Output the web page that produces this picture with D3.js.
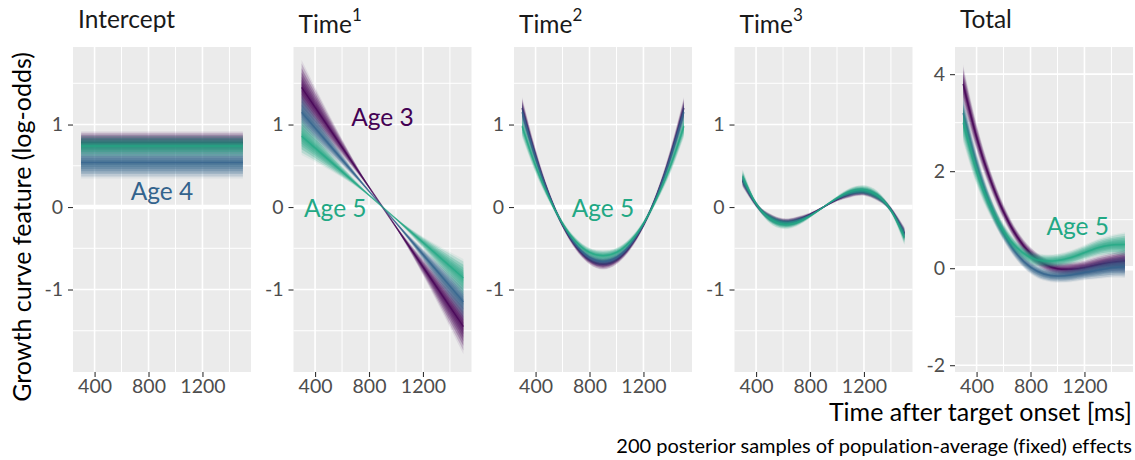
<!DOCTYPE html>
<html>
<head>
<meta charset="utf-8">
<script src="https://cdn.jsdelivr.net/npm/d3@7"></script>
<style>
  body { margin: 0; background: #fff; }
  svg { font-family: Lato, "Open Sans", sans-serif; font-variant-ligatures: none; }
</style>
</head>
<body>
<div id="chart"></div>
<script>
// groups and colours
const ages = ['Age 3', 'Age 4', 'Age 5'];
const ageColors = ['#440154', '#33638d', '#22a884'];

// panels
const panelTitles = ['Intercept', 'Time', 'Time', 'Time', 'Total'];
const panelSup = ['', '1', '2', '3', ''];
const xTicks = [400, 800, 1200];
const xMinor = [600, 1000, 1400];
const yTicks = [-1, 0, 1];
const yMinor = [-1.5, -0.5, 0.5, 1.5];
const totalTicks = [-2, 0, 2, 4];
const totalMinor = [-1, 1, 3];

// curves: centre of each bundle and half its spread
const interceptX = [300, 1500];
const interceptMid = [[0.78, 0.78], [0.54, 0.54], [0.74, 0.74]];
const interceptSpread = [[0.12, 0.12], [0.17, 0.17], [0.12, 0.12]];

const time1X = [300, 900, 1500];
const time1Mid = [[1.45, 0, -1.45], [1.15, 0, -1.15], [0.86, 0, -0.86]];
const time1Spread = [[0.29, 0, 0.29], [0.2, 0, 0.2], [0.2, 0, 0.2]];

const gridX = [300, 400, 500, 600, 700, 800, 900, 1000, 1100, 1200, 1300, 1400, 1500];
const time2Mid = [
  [1.20, 0.62, 0.15, -0.22, -0.48, -0.64, -0.69, -0.64, -0.48, -0.22, 0.15, 0.62, 1.20],
  [1.15, 0.60, 0.14, -0.21, -0.46, -0.61, -0.66, -0.61, -0.46, -0.21, 0.14, 0.60, 1.15],
  [0.98, 0.50, 0.11, -0.20, -0.42, -0.55, -0.59, -0.55, -0.42, -0.20, 0.11, 0.50, 0.98]
];
const time2Spread = [
  [0.12, 0.08, 0.04, 0.03, 0.04, 0.05, 0.06, 0.05, 0.04, 0.03, 0.04, 0.08, 0.12],
  [0.11, 0.07, 0.04, 0.03, 0.04, 0.05, 0.05, 0.05, 0.04, 0.03, 0.04, 0.07, 0.11],
  [0.12, 0.08, 0.04, 0.03, 0.04, 0.05, 0.06, 0.05, 0.04, 0.03, 0.04, 0.08, 0.12]
];
const time3Mid = [
  [0.32, 0.03, -0.12, -0.18, -0.16, -0.09, 0, 0.09, 0.16, 0.18, 0.12, -0.03, -0.32],
  [0.33, 0.035, -0.13, -0.19, -0.17, -0.10, 0, 0.10, 0.17, 0.19, 0.13, -0.035, -0.33],
  [0.37, 0.04, -0.14, -0.21, -0.19, -0.11, 0, 0.11, 0.19, 0.21, 0.14, -0.04, -0.37]
];
const time3Spread = [
  [0.07, 0.03, 0.04, 0.04, 0.04, 0.02, 0.01, 0.02, 0.04, 0.04, 0.04, 0.03, 0.07],
  [0.07, 0.03, 0.04, 0.04, 0.04, 0.02, 0.01, 0.02, 0.04, 0.04, 0.04, 0.03, 0.07],
  [0.08, 0.03, 0.05, 0.05, 0.04, 0.02, 0.01, 0.02, 0.04, 0.05, 0.05, 0.03, 0.08]
];
const totalMid = [
  [3.80, 2.70, 1.84, 1.16, 0.65, 0.30, 0.09, -0.01, -0.02, 0.01, 0.07, 0.12, 0.15],
  [3.20, 2.14, 1.32, 0.72, 0.29, 0.02, -0.12, -0.16, -0.14, -0.09, -0.04, 0.01, 0.03],
  [3.00, 2.00, 1.28, 0.76, 0.42, 0.22, 0.15, 0.16, 0.22, 0.32, 0.42, 0.48, 0.49]
];
const totalSpread = [
  [0.35, 0.25, 0.18, 0.14, 0.12, 0.12, 0.12, 0.12, 0.13, 0.14, 0.16, 0.18, 0.22],
  [0.30, 0.22, 0.17, 0.14, 0.12, 0.12, 0.12, 0.12, 0.13, 0.14, 0.16, 0.18, 0.20],
  [0.35, 0.25, 0.18, 0.14, 0.12, 0.12, 0.12, 0.12, 0.13, 0.14, 0.16, 0.18, 0.22]
];

// direct labels: panel, group, x, y
const labelPanel = [0, 1, 1, 2, 4];
const labelAge = [1, 0, 2, 2, 2];
const labelX = [900, 900, 550, 900, 1150];
const labelY = [0.2, 1.1, 0, 0, 0.89];

const panelX = [interceptX, time1X, gridX, gridX, gridX];
const panelMid = [interceptMid, time1Mid, time2Mid, time3Mid, totalMid];
const panelSpread = [interceptSpread, time1Spread, time2Spread, time3Spread, totalSpread];

const width = 1135;
const height = 460;
const panelTop = 47, panelBottom = 372;
const panelW = 178, panelStep = 220.5, firstLeft = 73;

const svg = d3.select('#chart').append('svg')
  .attr('width', width)
  .attr('height', height);

// layers of each bundle: wide and faint outside, dense at the centre
const layers = [1.15, 1, 0.8, 0.62, 0.46, 0.32, 0.18];
const layerOpacity = [0.08, 0.18, 0.26, 0.26, 0.26, 0.26, 0.26];

panelTitles.forEach((title, p) => {
  const left = firstLeft + p * panelStep;
  const isTotal = p === 4;
  const x = d3.scaleLinear().domain([240, 1560]).range([left, left + panelW]);
  const y = isTotal
    ? d3.scaleLinear().domain([-2.14, 4.56]).range([panelBottom, panelTop])
    : d3.scaleLinear().domain([-2.0, 1.94]).range([panelBottom, panelTop]);
  const major = isTotal ? totalTicks : yTicks;
  const minor = isTotal ? totalMinor : yMinor;

  const g = svg.append('g');

  g.append('rect')
    .attr('x', left).attr('y', panelTop)
    .attr('width', panelW).attr('height', panelBottom - panelTop)
    .attr('fill', '#ebebeb');

  // grid
  g.selectAll('.vminor').data(xMinor).join('line')
    .attr('x1', d => x(d)).attr('x2', d => x(d))
    .attr('y1', panelTop).attr('y2', panelBottom)
    .attr('stroke', '#fff').attr('stroke-width', 1);
  g.selectAll('.hminor').data(minor).join('line')
    .attr('x1', left).attr('x2', left + panelW)
    .attr('y1', d => y(d)).attr('y2', d => y(d))
    .attr('stroke', '#fff').attr('stroke-width', 1);
  g.selectAll('.vmajor').data(xTicks).join('line')
    .attr('x1', d => x(d)).attr('x2', d => x(d))
    .attr('y1', panelTop).attr('y2', panelBottom)
    .attr('stroke', '#fff').attr('stroke-width', 1.6);
  g.selectAll('.hmajor').data(major).join('line')
    .attr('x1', left).attr('x2', left + panelW)
    .attr('y1', d => y(d)).attr('y2', d => y(d))
    .attr('stroke', '#fff').attr('stroke-width', d => d === 0 ? 4.5 : 1.6);

  // clip bundles to the panel
  const clipId = 'clip' + p;
  svg.append('clipPath').attr('id', clipId)
    .append('rect')
    .attr('x', left).attr('y', panelTop)
    .attr('width', panelW).attr('height', panelBottom - panelTop);

  const bundles = g.append('g').attr('clip-path', `url(#${clipId})`);
  const xs = panelX[p];

  ages.forEach((age, a) => {
    const mid = panelMid[p][a];
    const spread = panelSpread[p][a];
    const pts = xs.map((xv, i) => ({ x: xv, m: mid[i], s: spread[i] }));
    layers.forEach((f, k) => {
      const area = d3.area()
        .curve(d3.curveNatural)
        .x(d => x(d.x))
        .y0(d => y(d.m - f * d.s))
        .y1(d => y(d.m + f * d.s));
      bundles.append('path')
        .datum(pts)
        .attr('d', area)
        .attr('fill', ageColors[a])
        .attr('fill-opacity', layerOpacity[k]);
    });
    const line = d3.line()
      .curve(d3.curveNatural)
      .x(d => x(d.x))
      .y(d => y(d.m));
    bundles.append('path')
      .datum(pts)
      .attr('d', line)
      .attr('fill', 'none')
      .attr('stroke', ageColors[a])
      .attr('stroke-opacity', 0.7)
      .attr('stroke-width', 1.5);
  });

  // axes
  const yAxis = g.append('g')
    .attr('transform', `translate(${left},0)`)
    .call(d3.axisLeft(y).tickValues(major).tickSize(5).tickPadding(5).tickFormat(d3.format('d')));
  const xAxis = g.append('g')
    .attr('transform', `translate(0,${panelBottom})`)
    .call(d3.axisBottom(x).tickValues(xTicks).tickSize(5).tickPadding(2).tickFormat(d3.format('d')));
  [yAxis, xAxis].forEach(ax => {
    ax.select('.domain').remove();
    ax.selectAll('.tick line').attr('stroke', '#333').attr('stroke-width', 1.1);
    ax.selectAll('.tick text')
      .attr('fill', '#4d4d4d')
      .style('font-family', 'Lato, sans-serif')
      .style('font-size', '19.5px');
  });
  yAxis.selectAll('.tick text').text(d => d < 0 ? '-' + Math.abs(d) : d);

  // strip title
  const t = svg.append('text')
    .attr('x', left + 5)
    .attr('y', panelSup[p] ? 33 : 28)
    .attr('fill', '#1a1a1a')
    .style('font-size', '24.5px')
    .text(title);
  if (panelSup[p]) {
    t.append('tspan')
      .attr('dy', -12)
      .style('font-size', '17px')
      .text(panelSup[p]);
  }

  // direct labels
  labelPanel.forEach((lp, i) => {
    if (lp !== p) return;
    g.append('text')
      .attr('x', x(labelX[i]))
      .attr('y', y(labelY[i]))
      .attr('text-anchor', 'middle')
      .attr('dominant-baseline', 'central')
      .attr('fill', ageColors[labelAge[i]])
      .style('font-size', '24.5px')
      .text(ages[labelAge[i]]);
  });
});

// axis titles and caption
svg.append('text')
  .attr('transform', 'translate(31,227) rotate(-90)')
  .attr('text-anchor', 'middle')
  .attr('fill', '#000')
  .style('font-size', '25px')
  .text('Growth curve feature (log-odds)');

svg.append('text')
  .attr('x', 1132).attr('y', 421)
  .attr('text-anchor', 'end')
  .attr('fill', '#000')
  .style('font-size', '25px')
  .text('Time after target onset [ms]');

svg.append('text')
  .attr('x', 1132).attr('y', 453)
  .attr('text-anchor', 'end')
  .attr('fill', '#000')
  .style('font-size', '20px')
  .text('200 posterior samples of population-average (fixed) effects');
</script>
</body>
</html>
